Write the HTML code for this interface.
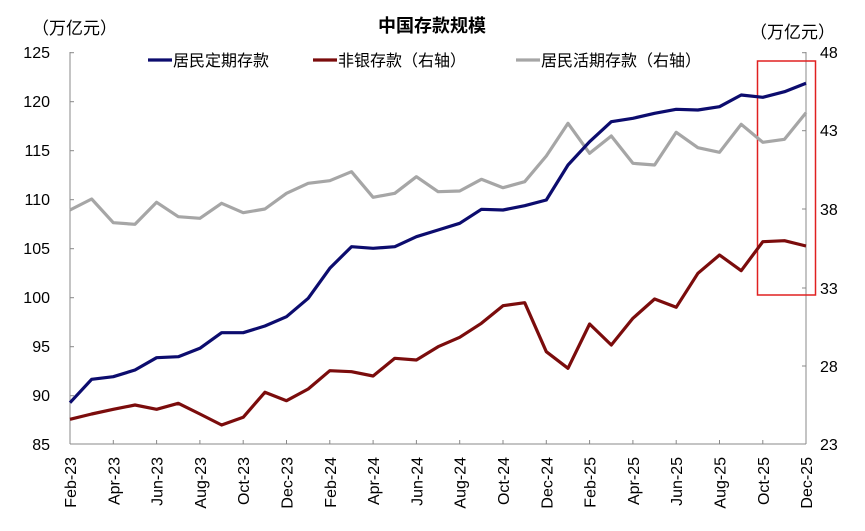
<!DOCTYPE html>
<html><head><meta charset="utf-8"><style>
body{margin:0;background:#fff}
svg{display:block;font-family:"Liberation Sans","Noto Sans CJK SC",sans-serif}
</style></head><body>
<svg width="865" height="531" viewBox="0 0 865 531">
<text x="432" y="32" font-size="18" font-weight="bold" text-anchor="middle" fill="#000">中国存款规模</text>
<text x="32" y="34" font-size="17" fill="#000">（万亿元）</text>
<text x="750" y="38" font-size="17" fill="#000">（万亿元）</text>
<g stroke="#888" stroke-width="1" fill="none">
<line x1="70" y1="52" x2="70" y2="444"/>
<line x1="806" y1="52" x2="806" y2="444"/>
<line x1="70" y1="444" x2="806" y2="444"/>
</g>
<g stroke="#888" stroke-width="1">
<line x1="70" y1="52.7" x2="74" y2="52.7"/><line x1="70" y1="101.7" x2="74" y2="101.7"/><line x1="70" y1="150.7" x2="74" y2="150.7"/><line x1="70" y1="199.7" x2="74" y2="199.7"/><line x1="70" y1="248.7" x2="74" y2="248.7"/><line x1="70" y1="297.7" x2="74" y2="297.7"/><line x1="70" y1="346.7" x2="74" y2="346.7"/><line x1="70" y1="395.7" x2="74" y2="395.7"/>
<line x1="802" y1="52.7" x2="806" y2="52.7"/><line x1="802" y1="130.7" x2="806" y2="130.7"/><line x1="802" y1="209" x2="806" y2="209"/><line x1="802" y1="288" x2="806" y2="288"/><line x1="802" y1="366" x2="806" y2="366"/>
</g>
<g font-size="16" fill="#000" text-anchor="end">
<text x="50" y="58">125</text><text x="50" y="107">120</text><text x="50" y="156">115</text><text x="50" y="205">110</text><text x="50" y="254">105</text><text x="50" y="303">100</text><text x="50" y="352">95</text><text x="50" y="401">90</text><text x="50" y="450">85</text>
</g>
<g font-size="16" fill="#000">
<text x="820" y="58">48</text><text x="820" y="136">43</text><text x="820" y="215">38</text><text x="820" y="294">33</text><text x="820" y="372">28</text><text x="820" y="450">23</text>
</g>
<g id="xl" font-size="16" fill="#000" text-anchor="end"></g>
<rect x="757.5" y="61" width="58" height="234" fill="none" stroke="#e02020" stroke-width="1.5"/>
<polyline fill="none" stroke="#a6a6a6" stroke-width="3.2" stroke-linejoin="round" points="70,210 91.65,199 113.3,222.7 135,224.3 156.6,202.3 178.3,216.7 199.9,218.3 221.6,203.3 243.2,212.7 264.9,209 286.5,193.3 308.2,183.3 329.8,180.7 351.5,171.7 373.1,197.3 394.8,193.3 416.4,176.7 438.1,191.7 459.7,191 481.4,179.3 503,187.7 524.7,181.7 546.3,156 568,123.3 589.6,153.3 611.3,136 632.9,163.3 654.6,165 676.2,132.3 697.9,147.7 719.5,152.3 741.2,124.3 762.8,142.3 784.5,139.3 806,112.7"/>
<polyline fill="none" stroke="#7b0c0c" stroke-width="3.2" stroke-linejoin="round" points="70,419.3 91.65,414 113.3,409.3 135,405 156.6,409.3 178.3,403.3 199.9,414 221.6,425 243.2,417.3 264.9,392.3 286.5,400.7 308.2,389 329.8,370.7 351.5,371.7 373.1,376 394.8,358.3 416.4,360 438.1,346.7 459.7,337.3 481.4,323.3 503,305.7 524.7,302.7 546.3,351.7 568,368.3 589.6,324 611.3,345 632.9,318.3 654.6,299 676.2,307.3 697.9,273.3 719.5,255 741.2,270.7 762.8,241.7 784.5,240.7 806,246"/>
<polyline fill="none" stroke="#0c0c6e" stroke-width="3.2" stroke-linejoin="round" points="70,402.7 91.65,379.3 113.3,376.7 135,370 156.6,357.7 178.3,356.7 199.9,348.3 221.6,332.7 243.2,332.7 264.9,326 286.5,316.7 308.2,298.3 329.8,268.3 351.5,246.7 373.1,248.3 394.8,246.7 416.4,236.7 438.1,230 459.7,223.3 481.4,209.3 503,210 524.7,205.7 546.3,200 568,165 589.6,141.7 611.3,121.7 632.9,118.3 654.6,113.3 676.2,109.3 697.9,110 719.5,106.7 741.2,95 762.8,97.3 784.5,91.7 806,83.3"/>
<g font-size="16" fill="#000">
<line x1="148" y1="60" x2="172" y2="60" stroke="#0c0c6e" stroke-width="3.2"/>
<text x="173" y="66">居民定期存款</text>
<line x1="313" y1="60" x2="337" y2="60" stroke="#7b0c0c" stroke-width="3.2"/>
<text x="338" y="66">非银存款（右轴）</text>
<line x1="516" y1="60" x2="540" y2="60" stroke="#a6a6a6" stroke-width="3.2"/>
<text x="541" y="66">居民活期存款（右轴）</text>
</g>
<g font-size="16" fill="#000" text-anchor="end">
<text transform="translate(76,457) rotate(-90)">Feb-23</text>
<text transform="translate(119.3,457) rotate(-90)">Apr-23</text>
<text transform="translate(162.6,457) rotate(-90)">Jun-23</text>
<text transform="translate(205.9,457) rotate(-90)">Aug-23</text>
<text transform="translate(249.2,457) rotate(-90)">Oct-23</text>
<text transform="translate(292.5,457) rotate(-90)">Dec-23</text>
<text transform="translate(335.8,457) rotate(-90)">Feb-24</text>
<text transform="translate(379.1,457) rotate(-90)">Apr-24</text>
<text transform="translate(422.4,457) rotate(-90)">Jun-24</text>
<text transform="translate(465.7,457) rotate(-90)">Aug-24</text>
<text transform="translate(509,457) rotate(-90)">Oct-24</text>
<text transform="translate(552.3,457) rotate(-90)">Dec-24</text>
<text transform="translate(595.6,457) rotate(-90)">Feb-25</text>
<text transform="translate(638.9,457) rotate(-90)">Apr-25</text>
<text transform="translate(682.2,457) rotate(-90)">Jun-25</text>
<text transform="translate(725.5,457) rotate(-90)">Aug-25</text>
<text transform="translate(768.8,457) rotate(-90)">Oct-25</text>
<text transform="translate(812,457) rotate(-90)">Dec-25</text>
</g>
<g stroke="#888" stroke-width="1">
<line x1="113.3" y1="440" x2="113.3" y2="444"/><line x1="156.6" y1="440" x2="156.6" y2="444"/><line x1="199.9" y1="440" x2="199.9" y2="444"/><line x1="243.2" y1="440" x2="243.2" y2="444"/><line x1="286.5" y1="440" x2="286.5" y2="444"/><line x1="329.8" y1="440" x2="329.8" y2="444"/><line x1="373.1" y1="440" x2="373.1" y2="444"/><line x1="416.4" y1="440" x2="416.4" y2="444"/><line x1="459.7" y1="440" x2="459.7" y2="444"/><line x1="503" y1="440" x2="503" y2="444"/><line x1="546.3" y1="440" x2="546.3" y2="444"/><line x1="589.6" y1="440" x2="589.6" y2="444"/><line x1="632.9" y1="440" x2="632.9" y2="444"/><line x1="676.2" y1="440" x2="676.2" y2="444"/><line x1="719.5" y1="440" x2="719.5" y2="444"/><line x1="762.8" y1="440" x2="762.8" y2="444"/>
</g>
</svg>
</body></html>
